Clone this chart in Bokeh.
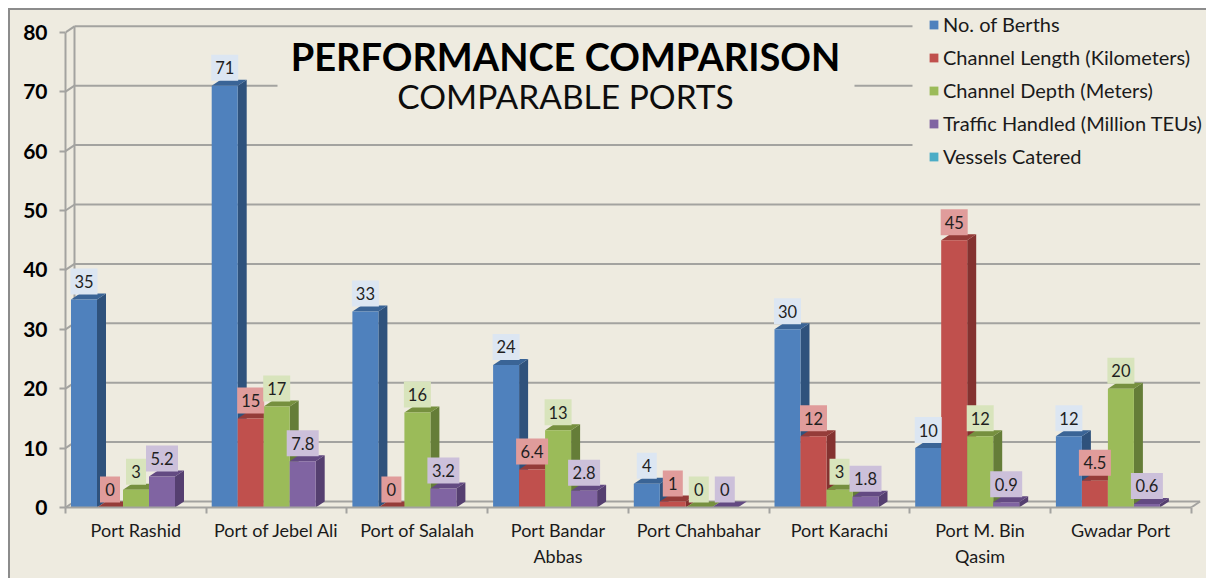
from bokeh.embed import file_html
from bokeh.resources import INLINE
from bokeh.plotting import figure
from bokeh.models import (ColumnDataSource, FixedTicker, Label, Legend, LegendItem,
                          Range1d, LinearAxis)
from bokeh.core.properties import value

categories = ["Port Rashid", "Port of Jebel Ali", "Port of Salalah", "Port Bandar\nAbbas",
              "Port Chahbahar", "Port Karachi", "Port M. Bin\nQasim", "Gwadar Port"]
berths = [35, 71, 33, 24, 4, 30, 10, 12]
channel_length = [0, 15, 0, 6.4, 1, 12, 45, 4.5]
channel_depth = [3, 17, 16, 13, 0, 3, 12, 20]
traffic = [5.2, 7.8, 3.2, 2.8, 0, 1.8, 0.9, 0.6]
vessels = [None] * 8
y_ticks = [0, 10, 20, 30, 40, 50, 60, 70, 80]
title_main = "PERFORMANCE COMPARISON"
title_sub = "COMPARABLE PORTS"

series = [
    ("No. of Berths", berths, "#4f81bd", "#2f527c", "#3a6496", "#dce6f2"),
    ("Channel Length (Kilometers)", channel_length, "#c0504d", "#843230", "#953c39", "#e09c9b"),
    ("Channel Depth (Meters)", channel_depth, "#9bbb59", "#657d38", "#76903f", "#d8e4bc"),
    ("Traffic Handled (Million TEUs)", traffic, "#8064a2", "#553f70", "#634a82", "#ccc0da"),
    ("Vessels Catered", vessels, "#4bacc6", "#2f7a8f", "#3a8ea6", "#b7dee8"),
]

BG = "#eeebe0"
GRID = "#a3a3a0"
FONT = "Lato"

ORG = 8
W, H = 1198, 570
X0, Y0, YTOP = 65, 507, ORG        # reference pixels of the frame
PX_X = 140.7                       # pixels per category
PX_Y = 5.94                        # pixels per y unit
DX, DY = 9 / PX_X, 6 / PX_Y        # 3D depth
BAR = 26 / PX_X
PAD = 5.5 / PX_X


def fx(px):
    return (px - X0) / PX_X


def fy(px):
    return (Y0 - px) / PX_Y


p = figure(width=W, height=H, output_backend="svg", toolbar_location=None,
           x_range=Range1d(0, fx(ORG + W)), y_range=Range1d(0, fy(YTOP)),
           x_axis_type=None, y_axis_type=None,
           min_border_left=X0 - ORG, min_border_right=0, min_border_top=0,
           min_border_bottom=ORG + H - Y0,
           background_fill_color=None, border_fill_color=None, outline_line_color=None)
p.margin = (8, 0, 0, 8)
p.styles = {"background-color": BG, "box-shadow": "inset 2px 2px 0 #8c8c8c"}
p.xgrid.visible = False
p.ygrid.visible = False

# Axes
centers = [i + 0.5 for i in range(len(categories))]
xaxis = LinearAxis(ticker=FixedTicker(ticks=centers, minor_ticks=list(range(len(categories) + 1))),
                   major_label_overrides={c: n for c, n in zip(centers, categories)},
                   bounds=(0, len(categories)))
xaxis.major_tick_line_color = None
xaxis.minor_tick_in = 0
xaxis.minor_tick_out = 6
xaxis.minor_tick_line_color = GRID
xaxis.minor_tick_line_width = 2
xaxis.axis_line_color = GRID
xaxis.axis_line_width = 2
xaxis.major_label_text_font = FONT
xaxis.major_label_text_font_size = "18px"
xaxis.major_label_text_color = "#1a1a1a"
xaxis.major_label_standoff = 5
xaxis.major_label_orientation = "horizontal"
p.add_layout(xaxis, "below")

yaxis = LinearAxis(ticker=FixedTicker(ticks=y_ticks), bounds=(0, 80))
yaxis.minor_tick_line_color = None
yaxis.major_tick_in = 0
yaxis.major_tick_out = 6
yaxis.major_tick_line_color = GRID
yaxis.major_tick_line_width = 2
yaxis.axis_line_color = GRID
yaxis.axis_line_width = 2
yaxis.major_label_text_font = FONT
yaxis.major_label_text_font_style = "bold"
yaxis.major_label_text_font_size = "21px"
yaxis.major_label_text_color = "#000000"
yaxis.major_label_standoff = 12
p.add_layout(yaxis, "left")

# Back wall: grid lines, left wall, floor
n = len(categories)
p.segment(x0=[DX] * len(y_ticks), x1=[n + DX] * len(y_ticks),
          y0=[t + DY for t in y_ticks], y1=[t + DY for t in y_ticks],
          line_color=GRID, line_width=2)
p.segment(x0=[0] * len(y_ticks), x1=[DX] * len(y_ticks),
          y0=y_ticks, y1=[t + DY for t in y_ticks], line_color=GRID, line_width=2)
p.segment(x0=[DX], x1=[DX], y0=[DY], y1=[80 + DY], line_color=GRID, line_width=2)
p.segment(x0=[n], x1=[n + DX], y0=[0], y1=[DY], line_color=GRID, line_width=2)

# Panels that mask the grid behind the title and the legend
p.quad(left=[fx(277)], right=[fx(854)], bottom=[fy(118)], top=[fy(35)], fill_color=BG, line_color=None)
p.quad(left=[fx(912)], right=[fx(1214)], bottom=[fy(175)], top=[fy(12)], fill_color=BG, line_color=None)

# Bars with 3D faces
legend_items = []
for s, (name, vals, front, side, top, lab) in enumerate(series):
    left = [i + PAD + s * BAR for i in range(len(vals))]
    right = [l + BAR for l in left]
    mid = [(l + r) / 2 for l, r in zip(left, right)]
    if any(v is not None for v in vals):
        p.patches(xs=[[r, r + DX, r + DX, r] for r in right],
                  ys=[[0, DY, v + DY, v] for v in vals],
                  fill_color=side, line_color=None)
        p.patches(xs=[[l, l + DX, r + DX, r] for l, r in zip(left, right)],
                  ys=[[v, v + DY, v + DY, v] for v in vals],
                  fill_color=top, line_color=None)
    bar = p.vbar(x=mid, top=[float("nan") if v is None else v for v in vals], bottom=0,
                 width=BAR, fill_color=front, line_color=None)
    legend_items.append(LegendItem(label=name, renderers=[bar]))

# Value labels on top of everything
for s, (name, vals, front, side, top, lab) in enumerate(series):
    if all(v is None for v in vals):
        continue
    mid = [i + PAD + (s + 0.5) * BAR for i in range(len(vals))]
    texts = [f"{v:g}" for v in vals]
    src = ColumnDataSource(dict(
        x=mid, y=[v + 18 / PX_Y for v in vals], text=texts,
        w=[{1: 20, 2: 27}.get(len(t), 32) for t in texts]))
    p.rect(x="x", y="y", width="w", width_units="screen", height=26 / PX_Y,
           source=src, fill_color=lab, line_color=None)
    p.text(x="x", y="y", text="text", source=src, text_align="center", text_baseline="middle",
           text_font=value("Lato"), text_font_size="16.5px", text_color="#1f1f1f")

# Title
p.add_layout(Label(x=fx(565), y=fy(55), text=title_main, text_align="center", text_baseline="middle",
                   text_font=FONT, text_font_style="bold", text_font_size="38px", text_color="#000000"))
p.add_layout(Label(x=fx(565), y=fy(95), text=title_sub, text_align="center", text_baseline="middle",
                   text_font=FONT, text_font_size="33.5px", text_color="#0d0d0d"))

# Legend
legend = Legend(items=legend_items, location=(928 - X0, Y0 - 168),
                orientation="vertical", background_fill_alpha=0, border_line_color=None,
                padding=0, margin=0, spacing=9, glyph_width=11, glyph_height=11,
                label_height=20, label_standoff=4, label_text_font=FONT,
                label_text_font_size="20px", label_text_color="#1a1a1a")
p.add_layout(legend, "center")

open("out.html", "w").write(file_html(p, INLINE))
